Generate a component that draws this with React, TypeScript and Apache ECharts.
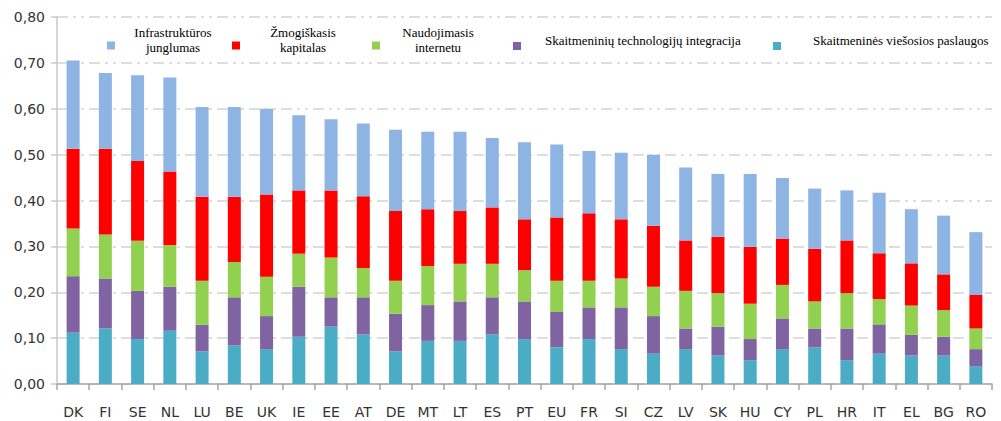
import React, { useEffect, useRef } from "react";
import * as echarts from "echarts";

const categories = ["DK","FI","SE","NL","LU","BE","UK","IE","EE","AT","DE","MT","LT","ES","PT","EU","FR","SI","CZ","LV","SK","HU","CY","PL","HR","IT","EL","BG","RO"];

const seriesNames = [
  "Skaitmeninės viešosios paslaugos",
  "Skaitmeninių technologijų integracija",
  "Naudojimasis internetu",
  "Žmogiškasis kapitalas",
  "Infrastruktūros junglumas",
];

const publicServices = [0.112,0.121,0.098,0.116,0.071,0.084,0.076,0.103,0.125,0.108,0.071,0.094,0.094,0.108,0.098,0.080,0.098,0.076,0.066,0.076,0.062,0.052,0.076,0.080,0.052,0.066,0.062,0.062,0.039];
const techIntegration = [0.123,0.109,0.105,0.096,0.058,0.105,0.072,0.109,0.064,0.081,0.082,0.078,0.086,0.081,0.082,0.077,0.069,0.091,0.082,0.045,0.063,0.046,0.067,0.041,0.069,0.064,0.045,0.041,0.037];
const internetUse = [0.104,0.096,0.109,0.091,0.096,0.077,0.086,0.072,0.087,0.064,0.072,0.085,0.082,0.073,0.068,0.068,0.058,0.063,0.064,0.082,0.073,0.077,0.073,0.059,0.077,0.055,0.064,0.058,0.045];
const humanCapital = [0.174,0.187,0.174,0.160,0.183,0.142,0.179,0.138,0.146,0.156,0.152,0.124,0.115,0.123,0.111,0.138,0.147,0.129,0.133,0.110,0.123,0.124,0.101,0.115,0.115,0.100,0.092,0.078,0.073];
const connectivity = [0.192,0.165,0.187,0.205,0.196,0.196,0.187,0.164,0.155,0.159,0.177,0.169,0.173,0.151,0.168,0.159,0.136,0.145,0.155,0.159,0.137,0.159,0.132,0.131,0.109,0.132,0.118,0.128,0.137];

const seriesData = [publicServices, techIntegration, internetUse, humanCapital, connectivity];
const colors = ["#4bacc6", "#8064a2", "#92d050", "#ff0000", "#8db4e2"];

const legendFont = "'Liberation Serif', 'Times New Roman', serif";

function makeLegend(name: string, left: number, top: number, formatter: string, rich: any, padLeft: number) {
  return {
    data: [name],
    left,
    top,
    padding: 0,
    icon: "rect",
    itemWidth: 8,
    itemHeight: 8,
    itemGap: 0,
    selectedMode: false,
    formatter: () => formatter,
    textStyle: {
      fontFamily: legendFont,
      fontSize: 13,
      color: "#000",
      lineHeight: 15,
      padding: [0, 0, 11, padLeft],
      rich,
    },
  };
}

export default function App() {
  const ref = useRef<HTMLDivElement>(null);
  useEffect(() => {
    if (!ref.current) return;
    const chart = echarts.init(ref.current, undefined, { renderer: "svg" });
    const richFor = (w: number) => ({
      c: { width: w, align: "center", fontFamily: legendFont, fontSize: 13, color: "#000", lineHeight: 15 },
    });
    chart.setOption({
      animation: false,
      backgroundColor: "#ffffff",
      color: colors,
      legend: [
        makeLegend(seriesNames[4], 107, 25, "{c|Infrastruktūros}\n{c|junglumas}", richFor(106), 0),
        makeLegend(seriesNames[3], 232, 25, "{c|Žmogiškasis}\n{c|kapitalas}", richFor(116), 0),
        makeLegend(seriesNames[2], 372, 25, "{c|Naudojimasis}\n{c|internetu}", richFor(106), 0),
        makeLegend(seriesNames[1], 513, 33, seriesNames[1], {}, 19),
        makeLegend(seriesNames[0], 773, 33, seriesNames[0], {}, 27),
      ],
      grid: { left: 57, right: 9, top: 17, bottom: 37, containLabel: false },
      xAxis: {
        type: "category",
        data: categories,
        boundaryGap: true,
        axisLine: { show: true, lineStyle: { color: "#a6a6a6", width: 1.5 } },
        axisTick: { show: true, length: 6, interval: 0, lineStyle: { color: "#a6a6a6", width: 1.5 } },
        axisLabel: {
          interval: 0,
          margin: 21,
          color: "#333333",
          fontFamily: "'DejaVu Sans', Verdana, sans-serif",
          fontSize: 14,
        },
        splitLine: { show: false },
      },
      yAxis: {
        type: "value",
        min: 0,
        max: 0.8,
        interval: 0.1,
        axisLine: { show: true, lineStyle: { color: "#c8c8c8", width: 1.5 } },
        axisTick: { show: true, length: 6, lineStyle: { color: "#c8c8c8", width: 1.5 } },
        axisLabel: {
          margin: 12,
          color: "#333333",
          fontFamily: "'DejaVu Sans', Verdana, sans-serif",
          fontSize: 14,
          formatter: (v: number) => v.toFixed(2).replace(".", ","),
        },
        splitLine: {
          show: true,
          lineStyle: { color: "#d4d4d4", width: 1.5, type: [11, 5, 3, 5, 3, 5] },
        },
      },
      series: seriesData.map((d, i) => ({
        name: seriesNames[i],
        type: "bar",
        stack: "total",
        barWidth: 13,
        data: d,
        itemStyle: { color: colors[i] },
      })),
    });
    return () => chart.dispose();
  }, []);
  return (
    <div
      ref={ref}
      style={{ position: "fixed", left: 0, top: 0, width: 1001, height: 421, background: "#fff" }}
    />
  );
}
